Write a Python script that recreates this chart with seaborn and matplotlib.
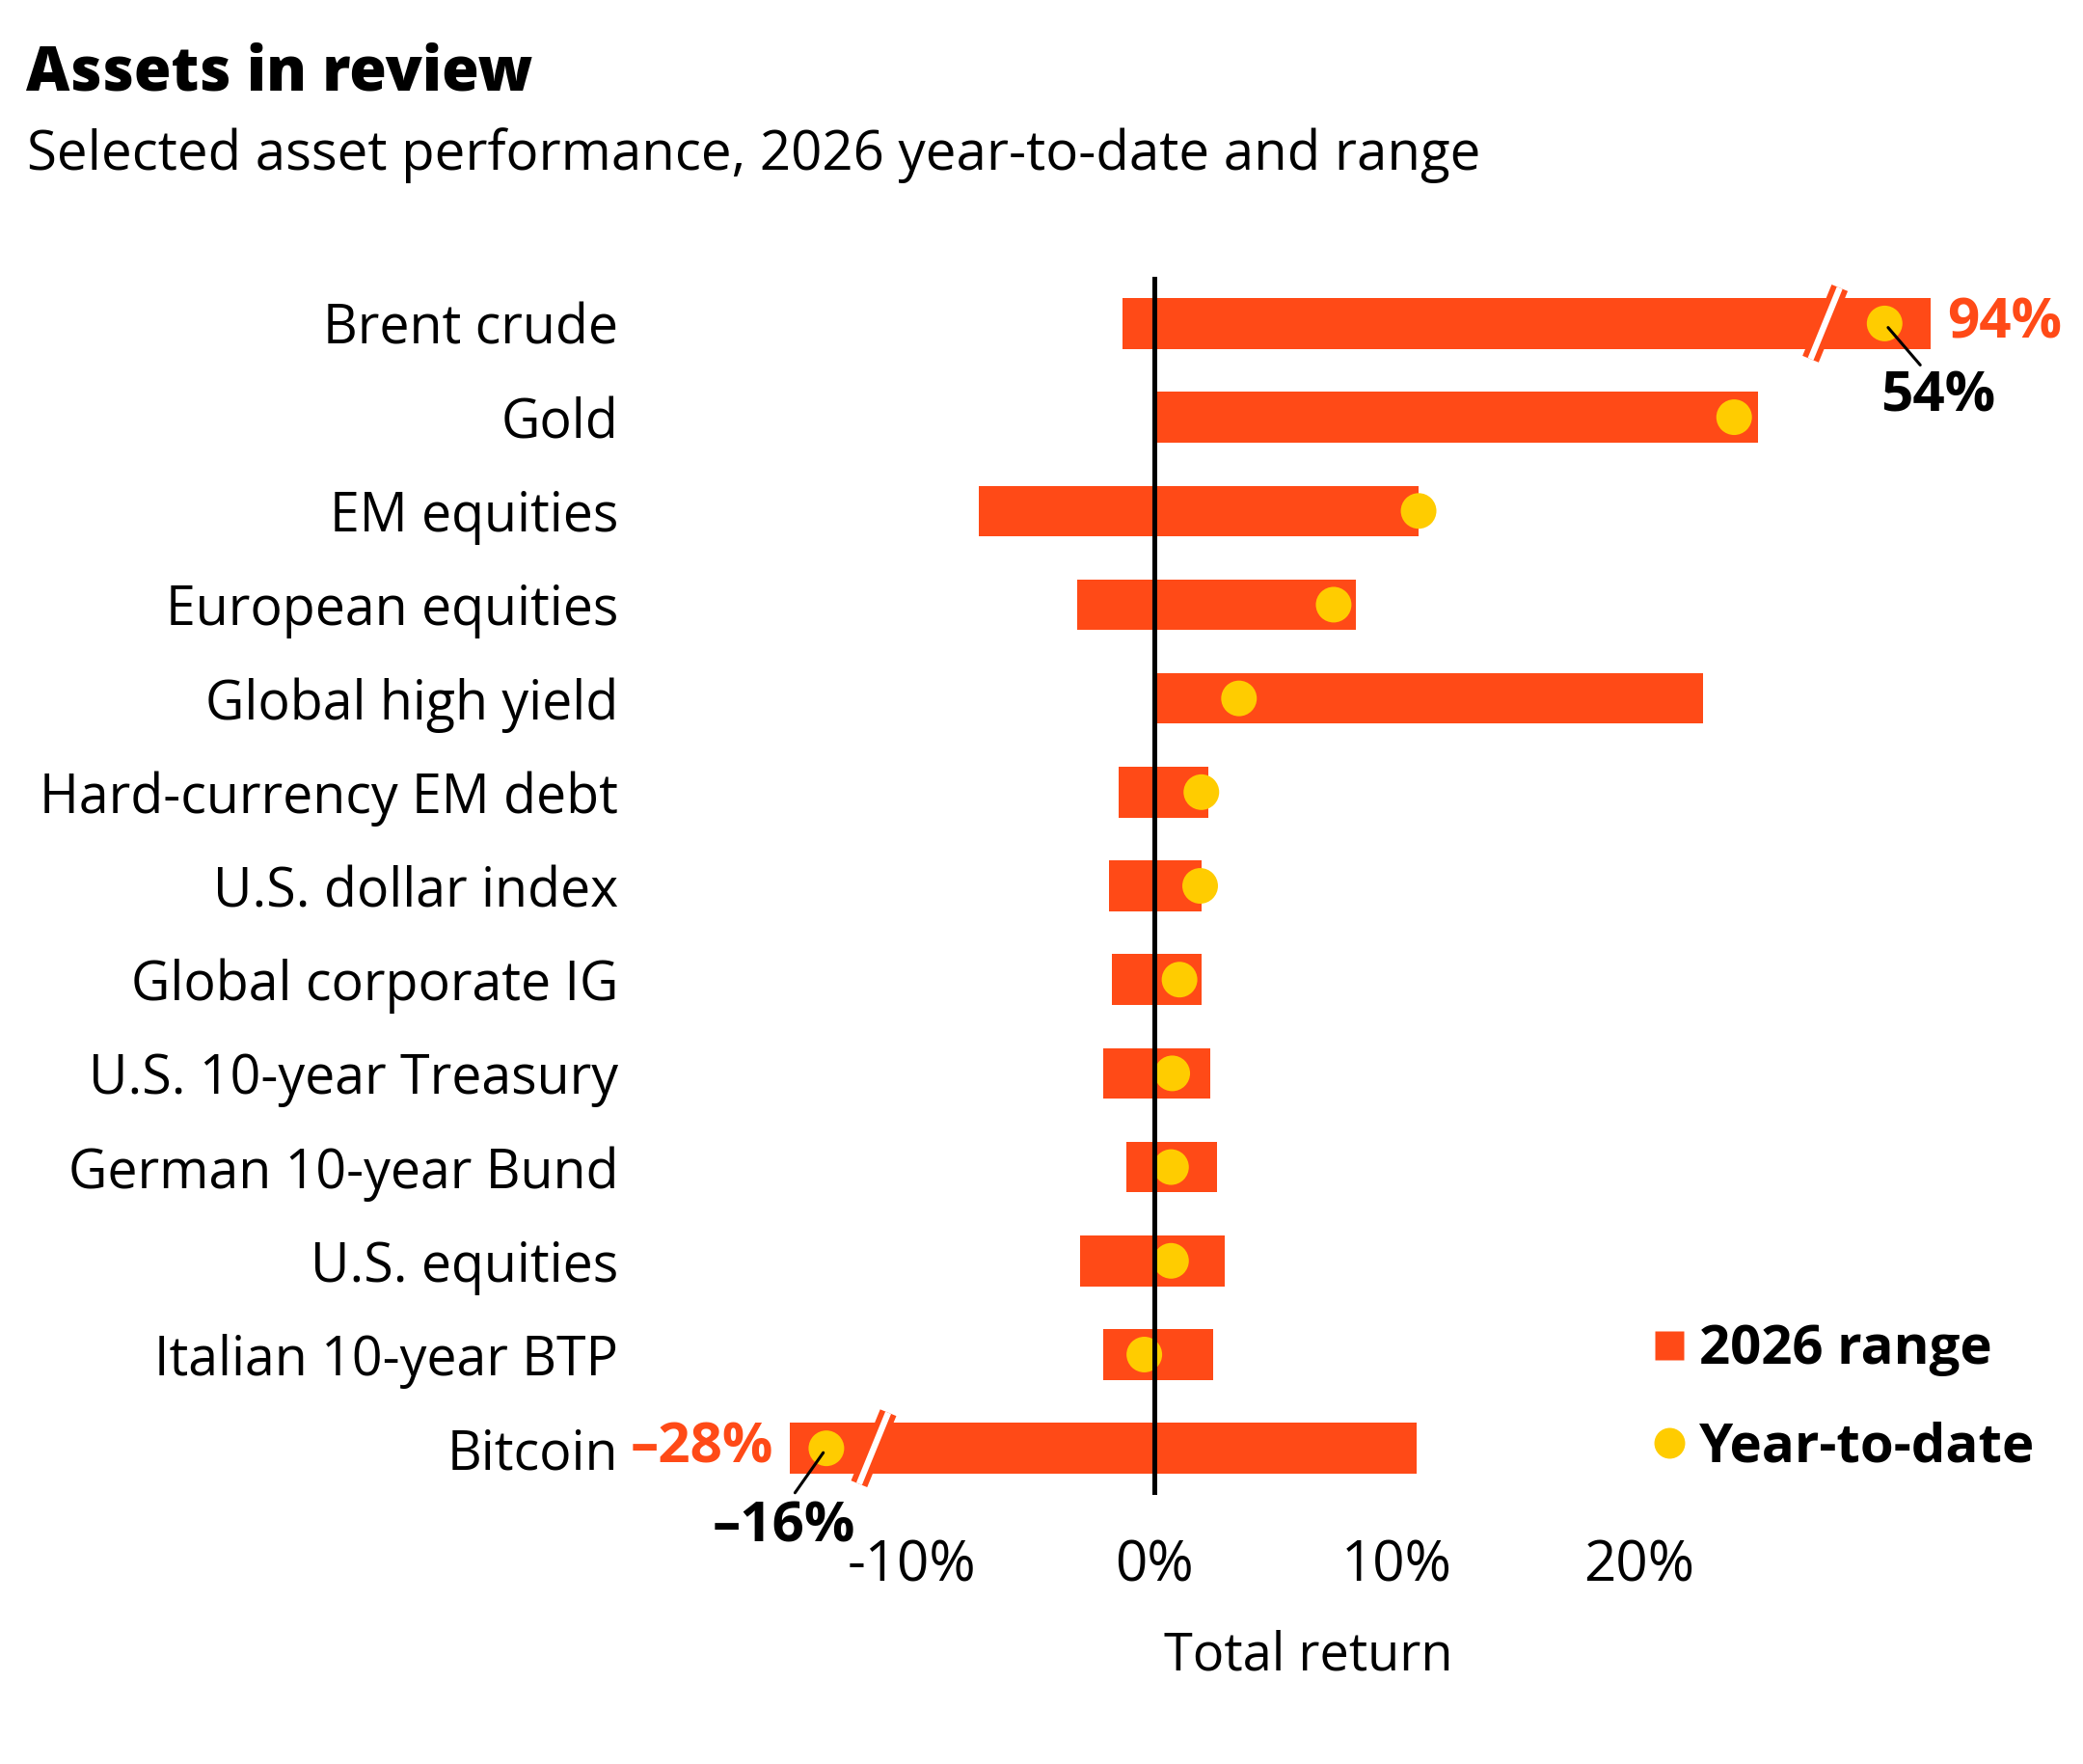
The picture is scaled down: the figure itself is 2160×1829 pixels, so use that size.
import numpy as np
import matplotlib
matplotlib.use("Agg")
import matplotlib.pyplot as plt
from matplotlib.lines import Line2D
import seaborn as sns

# ---------------- data ----------------
assets = ["Brent crude", "Gold", "EM equities", "European equities",
          "Global high yield", "Hard-currency EM debt", "U.S. dollar index",
          "Global corporate IG", "U.S. 10-year Treasury", "German 10-year Bund",
          "U.S. equities", "Italian 10-year BTP", "Bitcoin"]
range_low = [-1.3, 0.0, -7.2, -3.15, 0.0, -1.45, -1.85, -1.75, -2.1, -1.15, -3.05, -2.1, -28.0]
range_high = [94.0, 24.9, 10.9, 8.3, 22.6, 2.25, 1.95, 1.95, 2.3, 2.6, 2.9, 2.45, 10.8]
ytd = [54.0, 23.9, 10.9, 7.4, 3.5, 1.95, 1.9, 1.05, 0.75, 0.7, 0.7, -0.4, -16.0]
x_ticks = [-10, 0, 10, 20]
x_tick_labels = ["-10%", "0%", "10%", "20%"]

# broken axis: compressed scale beyond the break marks
scale_data = [-60.0, -28.0, -16.0, -12.5, 28.6, 54.0, 94.0]
scale_disp = [-21.8, -15.0, -13.5, -12.5, 28.6, 30.1, 32.0]
break_pos = [(27.65, 0), (-11.55, 12)]

ORANGE = "#FF4A17"
YELLOW = "#FFCC00"

sns.set_theme(style="white")
plt.rcParams["font.family"] = ["Open Sans", "DejaVu Sans"]
plt.rcParams["text.color"] = "black"
plt.rcParams["axes.labelcolor"] = "black"
plt.rcParams["xtick.color"] = "black"
plt.rcParams["ytick.color"] = "black"

fig = plt.figure(figsize=(10.8, 9.145), dpi=200)
ax = fig.add_axes([0.30, 0.1524, 0.6269, 0.6908])

n = len(assets)
pos = np.arange(n)
highs = [max(h, 0) for h in range_high]
lows = [min(l, 0) for l in range_low]

sns.barplot(x=highs, y=assets, orient="h", color=ORANGE, saturation=1,
            width=0.54, linewidth=0, ax=ax, zorder=2)
sns.barplot(x=lows, y=assets, orient="h", color=ORANGE, saturation=1,
            width=0.54, linewidth=0, ax=ax, zorder=2)
sns.scatterplot(x=ytd, y=pos, s=177, color=YELLOW, edgecolor="none",
                legend=False, ax=ax, zorder=3)

def fwd(v):
    return np.interp(v, scale_data, scale_disp)

def inv(v):
    return np.interp(v, scale_disp, scale_data)

ax.set_xscale("function", functions=(fwd, inv))
ax.set_xlim(scale_data[0], scale_data[-1])
ax.set_ylim(n - 0.5, -0.5)

ax.axvline(0, color="black", lw=1.8, zorder=4)

# break marks
for bx, by in break_pos:
    xs = [bx - 0.6, bx + 0.6]
    ys = [by + 0.38, by - 0.38]
    ax.plot(xs, ys, color=ORANGE, lw=6.5, solid_capstyle="butt", zorder=5)
    ax.plot(xs, ys, color="white", lw=2.3, solid_capstyle="butt", zorder=6)

for s in ax.spines.values():
    s.set_visible(False)
ax.set_xticks(x_ticks)
ax.set_xticklabels(x_tick_labels)
ax.tick_params(axis="x", length=0, pad=16, labelsize=21, labelcolor="black")
ax.tick_params(axis="y", length=0, pad=2.5, labelsize=20, labelcolor="black")
ax.set_xlabel("")
ax.set_ylabel("")
ax.grid(False)

# annotations for broken values
i_b = 0
i_c = n - 1
ann_size = 21
ax.annotate(f"{range_high[i_b]:.0f}%", xy=(range_high[i_b], i_b), xytext=(6.0, 0),
            textcoords="offset points", ha="left", va="center", color=ORANGE,
            fontsize=ann_size, fontweight="bold")
ax.annotate(f"{ytd[i_b]:.0f}%", xy=(ytd[i_b], i_b), xytext=(19.8, -27.4),
            textcoords="offset points", ha="center", va="center", color="black",
            fontsize=ann_size, fontweight="bold")
ax.annotate("", xy=(ytd[i_b], i_b), xytext=(13.3, -15.5), textcoords="offset points",
            arrowprops=dict(arrowstyle="-", color="black", lw=1.1, shrinkA=0, shrinkB=2),
            zorder=7)
ax.annotate(f"\u2013{abs(range_low[i_c]):.0f}%", xy=(range_low[i_c], i_c), xytext=(-6.0, 0),
            textcoords="offset points", ha="right", va="center", color=ORANGE,
            fontsize=ann_size, fontweight="bold")
ax.annotate(f"\u2013{abs(ytd[i_c]):.0f}%", xy=(ytd[i_c], i_c), xytext=(-15.7, -29.5),
            textcoords="offset points", ha="center", va="center", color="black",
            fontsize=ann_size, fontweight="bold")
ax.annotate("", xy=(ytd[i_c], i_c), xytext=(-11.7, -16.6), textcoords="offset points",
            arrowprops=dict(arrowstyle="-", color="black", lw=1.1, shrinkA=0, shrinkB=2),
            zorder=7)

# titles
fig.text(0.0125, 0.9491, "Assets in review", fontsize=22.5, fontweight=800,
         ha="left", va="baseline")
fig.text(0.0130, 0.9038, "Selected asset performance, 2026 year-to-date and range",
         fontsize=20.3, ha="left", va="baseline")
fig.text(0.628, 0.0612, "Total return", fontsize=19.5, ha="center", va="center")

handles = [Line2D([], [], marker="s", linestyle="none", markersize=10.8,
                  markerfacecolor=ORANGE, markeredgecolor="none"),
           Line2D([], [], marker="o", linestyle="none", markersize=11.5,
                  markerfacecolor=YELLOW, markeredgecolor="none")]
fig.legend(handles, ["2026 range", "Year-to-date"], loc="center left",
           bbox_to_anchor=(0.791, 0.207), frameon=False,
           prop=dict(size=20.3, weight="bold"), handlelength=0.8,
           handletextpad=0.15, labelspacing=0.82, borderpad=0, borderaxespad=0)

fig.savefig("out.png", dpi=200, facecolor="white")
